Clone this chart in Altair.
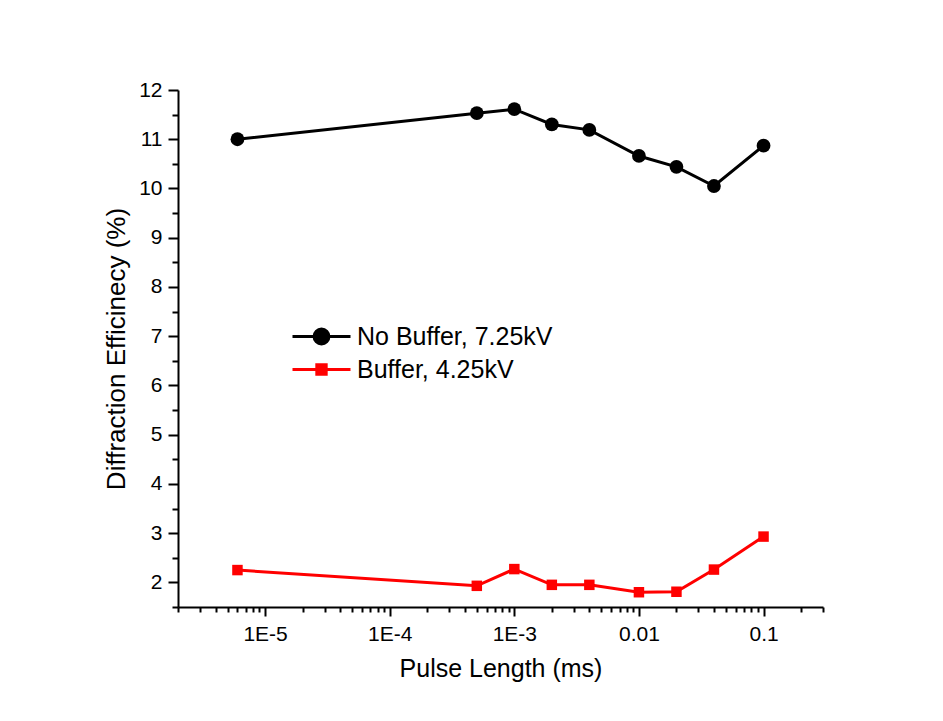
import altair as alt
import pandas as pd

# Pulse lengths (ms) and diffraction efficiency (%) for both runs
pulse_ms = [6e-6, 5e-4, 1e-3, 2e-3, 4e-3, 0.01, 0.02, 0.04, 0.1]
no_buffer = [11.00, 11.53, 11.61, 11.30, 11.19, 10.66, 10.44, 10.05, 10.87]
buffer = [2.25, 1.93, 2.27, 1.95, 1.95, 1.80, 1.81, 2.26, 2.93]

series_names = ["No Buffer, 7.25kV", "Buffer, 4.25kV"]
series_colors = ["#000000", "#ff0000"]
series_shapes = ["circle", "square"]
series_sizes = [190, 110]

FONT = "Liberation Sans"

df = pd.DataFrame(
    {
        "pulse": pulse_ms * 2,
        "eff": no_buffer + buffer,
        "series": [series_names[0]] * len(pulse_ms) + [series_names[1]] * len(pulse_ms),
    }
)

# log axis ticks: decades get labels, the 2..9 multiples are minor ticks
x_ticks = []
for e in range(-6, 0):
    for m in range(1, 10):
        v = float(f"{m}e{e}")
        if 2e-6 <= v <= 0.3 + 1e-12:
            x_ticks.append(v)
y_ticks = [1.5 + 0.5 * i for i in range(22)]

is_decade = "abs(log(datum.value)/LN10 - round(log(datum.value)/LN10)) < 1e-6"
x_label = (
    f"{is_decade} ? (datum.value >= 0.01 ? '' + datum.value : "
    "'1E' + round(log(datum.value)/LN10)) : ''"
)

# legend symbols: a line segment with the series marker in the middle
legend_paths = [
    "M-1,0H1M0.26,0A0.26,0.26,0,1,1,-0.26,0A0.26,0.26,0,1,1,0.26,0Z",
    "M-1,0H1M-0.165,-0.165H0.165V0.165H-0.165Z",
]
legend_y = [216, 249]

x_enc = alt.X(
    "pulse:Q",
    scale=alt.Scale(type="log", domain=[2e-6, 0.3], nice=False),
    axis=alt.Axis(
        title="Pulse Length (ms)",
        values=x_ticks,
        labelExpr=x_label,
        tickSize={"condition": {"test": is_decade, "value": 9}, "value": 5},
        labelPadding=7,
        titlePadding=12,
        titleFontSize=25,
    ),
)
y_enc = alt.Y(
    "eff:Q",
    scale=alt.Scale(domain=[1.5, 12], nice=False, zero=False),
    axis=alt.Axis(
        title="Diffraction Efficinecy (%)",
        values=y_ticks,
        labelExpr="datum.value % 1 === 0 ? '' + datum.value : ''",
        tickSize={"condition": {"test": "datum.value % 1 === 0", "value": 10}, "value": 6},
        labelPadding=6,
        titlePadding=9,
        titleFontSize=26,
    ),
)


def series_layer(i):
    name = series_names[i]
    color = alt.Color(
        "series:N",
        scale=alt.Scale(domain=[name], range=[series_colors[i]]),
        legend=alt.Legend(
            title=None,
            orient="none",
            legendX=113,
            legendY=legend_y[i],
            symbolType=legend_paths[i],
            symbolSize=3364,
            symbolStrokeWidth=2.8,
            symbolFillColor=series_colors[i],
            symbolStrokeColor=series_colors[i],
            symbolOpacity=1,
            labelFont=FONT,
            labelFontSize=25,
            labelColor="black",
            labelOffset=5,
            labelLimit=400,
        ),
    )
    base = alt.Chart(df).transform_filter(alt.datum.series == name)
    pts = base.mark_point(
        filled=True, opacity=1, shape=series_shapes[i], size=series_sizes[i]
    ).encode(x=x_enc, y=y_enc, color=color)
    line = base.mark_line(strokeWidth=3).encode(x=x_enc, y=y_enc, color=color)
    return alt.layer(pts, line)


chart = (
    alt.layer(series_layer(0), series_layer(1))
    .resolve_scale(color="independent")
    .properties(
        width=645,
        height=517,
        autosize=alt.AutoSizeParams(type="none"),
        padding={"left": 178, "top": 90, "right": 120, "bottom": 114},
        background="white",
    )
    .configure_view(stroke=None)
    .configure_axis(
        grid=False,
        domainColor="black",
        domainWidth=2,
        tickColor="black",
        tickWidth=2,
        labelFont=FONT,
        labelFontSize=21,
        labelColor="black",
        titleFont=FONT,
        titleFontWeight="normal",
        titleColor="black",
    )
)

chart.save("out.html", embed_options={"renderer": "svg", "actions": False})
